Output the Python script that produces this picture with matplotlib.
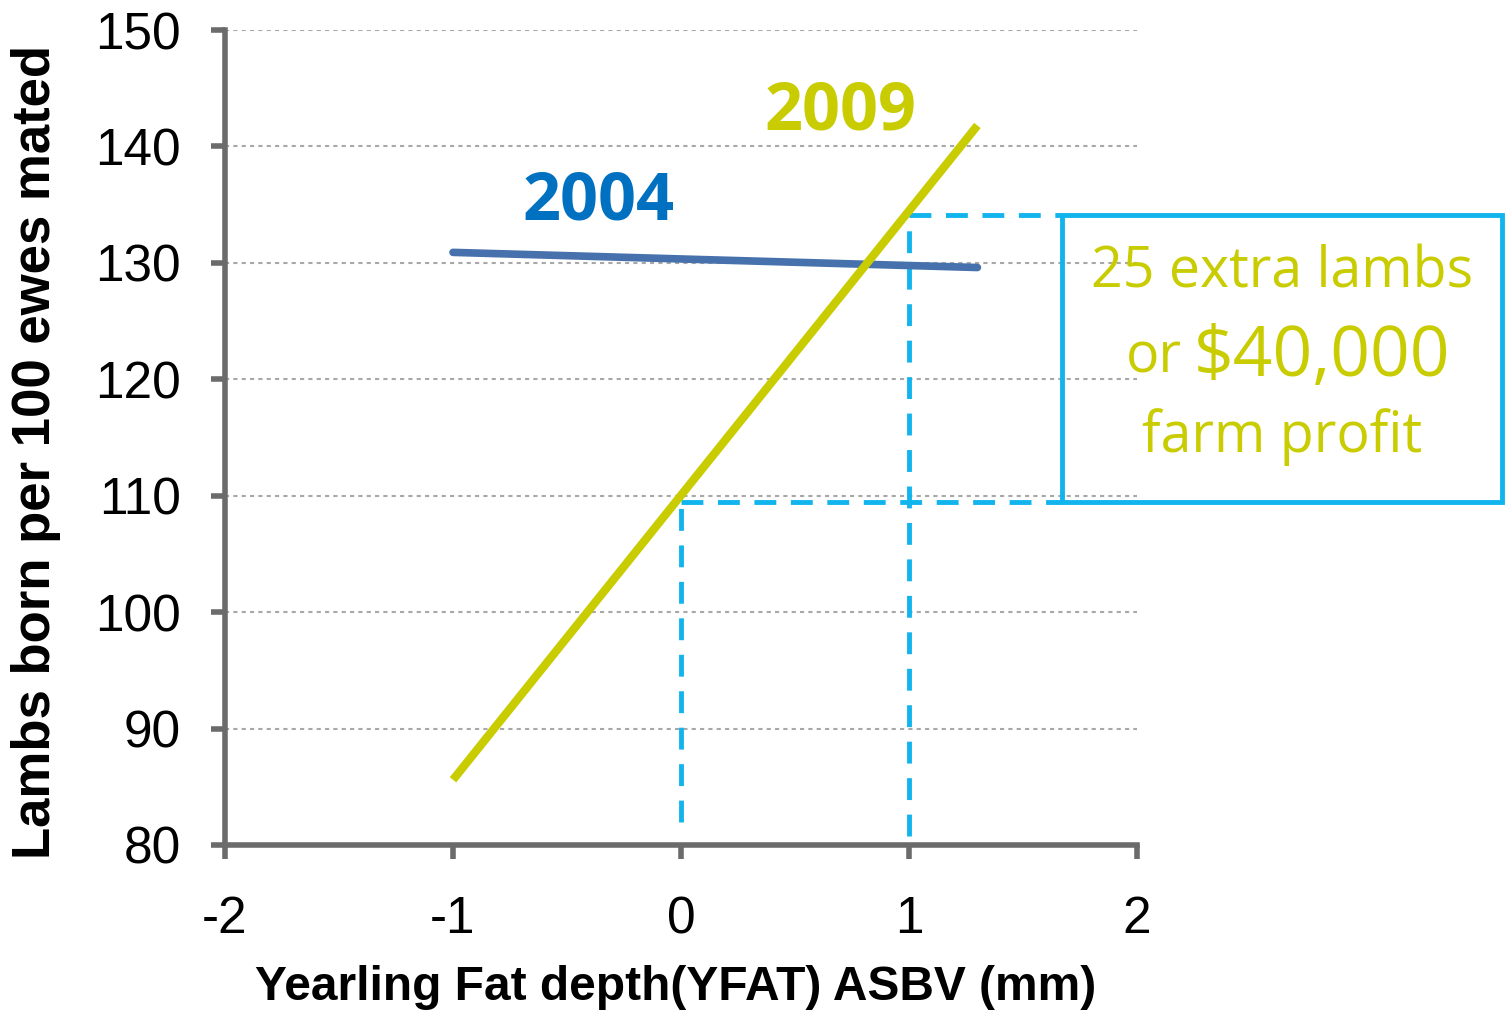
import matplotlib.pyplot as plt
from matplotlib.patches import Rectangle

# data
x_2009 = [-1.0, 1.3]
y_2009 = [85.6, 141.8]
x_2004 = [-1.0, 1.3]
y_2004 = [130.9, 129.6]

guide_x = [0.0, 1.0]
guide_y = [109.5, 134.1]
guide_bottom = [82.0, 80.8]
box_x = [1.67, 3.6]

xticks = [-2, -1, 0, 1, 2]
yticks = [80, 90, 100, 110, 120, 130, 140, 150]

yellow = '#C8CC00'
blue_line = '#4771AC'
blue_text = '#0070C0'
cyan = '#12B4EE'
axis_gray = '#6B6B6B'

fig = plt.figure(figsize=(15.08, 10.15), dpi=100)
ax = fig.add_axes([225 / 1508, 1 - 845 / 1015, (1137 - 225) / 1508, (845 - 30) / 1015])

ax.set_xlim(-2, 2)
ax.set_ylim(80, 150)
ax.set_xticks(xticks)
ax.set_yticks(yticks)
ax.set_xticklabels([str(t) for t in xticks], family='Liberation Sans', fontsize=37)
ax.set_yticklabels([str(t) for t in yticks], family='Liberation Sans', fontsize=37)
ax.tick_params(axis='both', direction='out', length=10, width=4, color=axis_gray)
ax.tick_params(axis='x', pad=26)
ax.tick_params(axis='y', pad=22)

for s in ['top', 'right']:
    ax.spines[s].set_visible(False)
for s in ['left', 'bottom']:
    ax.spines[s].set_color(axis_gray)
    ax.spines[s].set_linewidth(4)

# dotted grid
for yv in yticks[1:]:
    ax.axhline(yv, color='#A8A8A8', lw=1.5, ls=(0, (2, 2)), zorder=0)

# dashed guides
dash = (0, (4.5, 3))
ax.plot([guide_x[0], guide_x[0]], [guide_bottom[0], guide_y[0]], color=cyan, lw=3.5, ls=dash)
ax.plot([guide_x[1], guide_x[1]], [guide_bottom[1], guide_y[1]], color=cyan, lw=3.5, ls=dash)
ax.plot([guide_x[0], box_x[0]], [guide_y[0], guide_y[0]], color=cyan, lw=3.5, ls=dash, clip_on=False)
ax.plot([guide_x[1], box_x[0]], [guide_y[1], guide_y[1]], color=cyan, lw=3.5, ls=dash, clip_on=False)

# lines
ax.plot(x_2004, y_2004, color=blue_line, lw=5.5, solid_capstyle='round', zorder=3)
ax.plot(x_2009, y_2009, color=yellow, lw=6, solid_capstyle='butt', zorder=4)

ax.text(-0.36, 135.2, '2004', color=blue_text, fontsize=48, fontweight='bold',
        family='Open Sans', ha='center', va='center')
ax.text(0.70, 143.0, '2009', color=yellow, fontsize=48, fontweight='bold',
        family='Open Sans', ha='center', va='center')

# annotation box
ax.add_patch(Rectangle((box_x[0], guide_y[0]), box_x[1] - box_x[0], guide_y[1] - guide_y[0],
                       fill=False, edgecolor=cyan, lw=3.5, clip_on=False, zorder=5))
bx = (box_x[0] + box_x[1]) / 2
ax.text(bx, 129.1, '25 extra lambs', color=yellow, fontsize=40, family='Open Sans',
        ha='center', va='center', clip_on=False)
ax.text((1182 - 681) / 228, 121.8, 'or', color=yellow, fontsize=40, family='Open Sans',
        ha='right', va='center', clip_on=False)
ax.text((1194 - 681) / 228, 121.8, '$40,000', color=yellow, fontsize=50, family='Open Sans',
        ha='left', va='center', clip_on=False)
ax.text(bx, 115.0, 'farm profit', color=yellow, fontsize=40, family='Open Sans',
        ha='center', va='center', clip_on=False)

fig.text(676 / 1508, 1 - 988 / 1015, 'Yearling Fat depth(YFAT) ASBV (mm)', fontsize=34.5,
         fontweight='bold', family='Liberation Sans', ha='center', va='center')
fig.text(36 / 1508, 1 - 452 / 1015, 'Lambs born per 100 ewes mated', fontsize=38,
         fontweight='bold', family='Liberation Sans', ha='center', va='center', rotation=90)

fig.savefig('out.png', dpi=100)
